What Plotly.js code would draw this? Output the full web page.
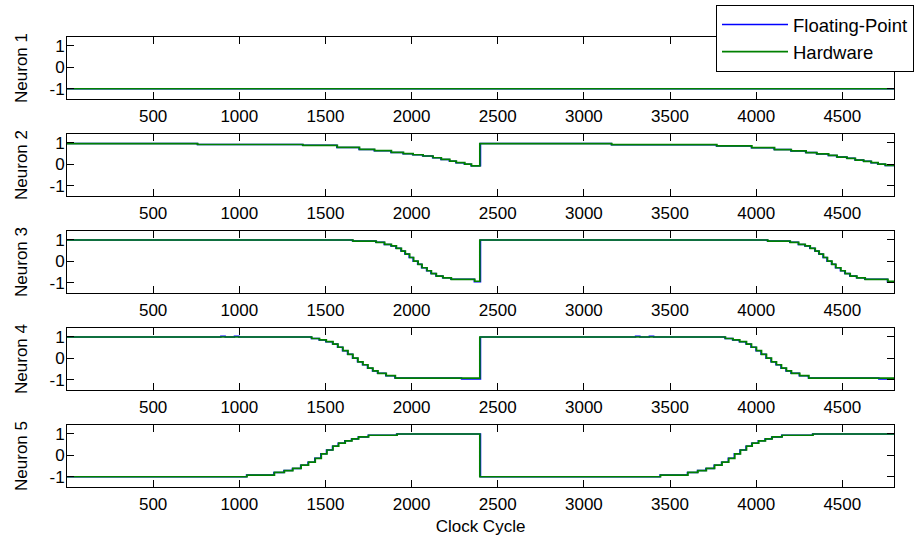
<!DOCTYPE html>
<html>
<head>
<meta charset="utf-8">
<script src="https://cdn.plot.ly/plotly-3.0.1.min.js"></script>
<style>html,body{margin:0;padding:0;background:#fff;}#chart{width:922px;height:543px;}</style>
</head>
<body>
<div id="chart"></div>
<script>
// ---------- data ----------
const seriesNames = ["Floating-Point", "Hardware"];
const neuronLabels = ["Neuron 1", "Neuron 2", "Neuron 3", "Neuron 4", "Neuron 5"];
const xTickVals = [500, 1000, 1500, 2000, 2500, 3000, 3500, 4000, 4500];
const yTickVals = [-1, 0, 1];
const xTitle = "Clock Cycle";

// Neuron 1
const n1HwT = [0, 4800];
const n1Hw  = [-1, -1];
const n1FpT = [0, 4800];
const n1Fp  = [-1, -1];

// Neuron 2
const n2HwT = [0, 759, 1370, 1569, 1698, 1786, 1883, 1953, 2009, 2067, 2125, 2173, 2222, 2260, 2309, 2348, 2396,
               3162, 3772, 3975, 4107, 4204, 4290, 4353, 4421, 4470, 4528, 4576, 4625, 4669, 4708, 4751, 4800];
const n2Hw  = [0.97, 0.93, 0.89, 0.79, 0.70, 0.64, 0.56, 0.50, 0.45, 0.39, 0.31, 0.23, 0.15, 0.08, 0.01, -0.07, 0.97,
               0.92, 0.86, 0.78, 0.69, 0.63, 0.55, 0.49, 0.42, 0.34, 0.28, 0.20, 0.14, 0.08, 0.01, -0.05, -0.05];
const n2FpT = [0, 756, 1367, 1566, 1695, 1783, 1880, 1950, 2006, 2064, 2122, 2170, 2219, 2257, 2306, 2345, 2400,
               3159, 3769, 3972, 4104, 4201, 4287, 4350, 4418, 4467, 4525, 4573, 4622, 4666, 4705, 4748, 4800];
const n2Fp  = [0.97, 0.93, 0.89, 0.79, 0.70, 0.64, 0.56, 0.50, 0.45, 0.39, 0.31, 0.23, 0.15, 0.08, 0.01, -0.07, 0.97,
               0.92, 0.86, 0.78, 0.69, 0.63, 0.55, 0.49, 0.42, 0.34, 0.28, 0.20, 0.14, 0.08, 0.01, -0.05, -0.05];

// Neuron 3
const n3HwT = [0, 1660, 1795, 1844, 1883, 1912, 1941, 1964, 1989, 2012, 2038, 2061, 2090, 2115, 2144, 2183, 2231, 2367, 2396,
               4068, 4198, 4247, 4285, 4314, 4343, 4366, 4391, 4414, 4440, 4463, 4492, 4517, 4546, 4585, 4633, 4765, 4800];
const n3Hw  = [1.0, 0.95, 0.89, 0.79, 0.72, 0.61, 0.48, 0.34, 0.18, 0.01, -0.14, -0.30, -0.44, -0.57, -0.69, -0.77, -0.84, -0.93, 1.0,
               0.95, 0.89, 0.79, 0.72, 0.61, 0.48, 0.34, 0.18, 0.01, -0.14, -0.30, -0.44, -0.57, -0.69, -0.77, -0.84, -0.93, -0.93];
const n3FpT = [0, 1657, 1792, 1841, 1880, 1909, 1938, 1961, 1986, 2009, 2035, 2058, 2087, 2112, 2141, 2180, 2228, 2364, 2400,
               4065, 4195, 4244, 4282, 4311, 4340, 4363, 4388, 4411, 4437, 4460, 4489, 4514, 4543, 4582, 4630, 4762, 4800];
const n3Fp  = [1.0, 0.95, 0.89, 0.79, 0.72, 0.61, 0.48, 0.34, 0.18, 0.01, -0.14, -0.30, -0.44, -0.57, -0.69, -0.77, -0.84, -0.95, 1.0,
               0.95, 0.89, 0.79, 0.72, 0.61, 0.48, 0.34, 0.18, 0.01, -0.14, -0.30, -0.44, -0.57, -0.69, -0.77, -0.84, -0.95, -0.95];

// Neuron 4
const n4HwT = [0, 1421, 1466, 1505, 1544, 1573, 1602, 1631, 1660, 1689, 1718, 1747, 1776, 1805, 1853, 1906, 2396,
               3822, 3866, 3905, 3944, 3973, 4002, 4031, 4060, 4089, 4118, 4147, 4176, 4205, 4253, 4306, 4800];
const n4Hw  = [1.0, 0.93, 0.86, 0.78, 0.67, 0.52, 0.36, 0.19, 0.01, -0.16, -0.30, -0.46, -0.59, -0.70, -0.81, -0.92, 1.0,
               0.93, 0.86, 0.78, 0.67, 0.52, 0.36, 0.19, 0.01, -0.16, -0.30, -0.46, -0.59, -0.70, -0.81, -0.92, -0.92];
const n4FpT = [0, 893, 918, 972, 997, 1418, 1463, 1502, 1541, 1570, 1599, 1628, 1657, 1686, 1715, 1744, 1773, 1802, 1850, 1903, 2290, 2400,
               3300, 3325, 3380, 3405, 3819, 3863, 3902, 3941, 3970, 3999, 4028, 4057, 4086, 4115, 4144, 4173, 4202, 4250, 4303, 4712, 4800];
const n4Fp  = [1.0, 1.03, 1.0, 1.03, 1.0, 0.93, 0.86, 0.78, 0.67, 0.52, 0.36, 0.19, 0.01, -0.16, -0.30, -0.46, -0.59, -0.70, -0.81, -0.92, -0.97, 1.0,
               1.03, 1.0, 1.03, 1.0, 0.93, 0.86, 0.78, 0.67, 0.52, 0.36, 0.19, 0.01, -0.16, -0.30, -0.46, -0.59, -0.70, -0.81, -0.92, -0.97, -0.97];

// Neuron 5
const n5HwT = [0, 1045, 1204, 1262, 1311, 1359, 1402, 1441, 1476, 1509, 1544, 1577, 1615, 1654, 1693, 1751, 1916, 2396,
               3445, 3604, 3662, 3711, 3759, 3802, 3841, 3876, 3909, 3944, 3977, 4015, 4054, 4093, 4151, 4330, 4800];
const n5Hw  = [-1.0, -0.92, -0.80, -0.71, -0.61, -0.46, -0.32, -0.14, 0.07, 0.25, 0.43, 0.57, 0.68, 0.77, 0.86, 0.94, 1.0, -1.0,
               -0.92, -0.80, -0.71, -0.61, -0.46, -0.32, -0.14, 0.07, 0.25, 0.43, 0.57, 0.68, 0.77, 0.86, 0.94, 1.0, 1.0];
const n5FpT = [0, 1042, 1201, 1259, 1308, 1356, 1399, 1438, 1473, 1506, 1541, 1574, 1612, 1651, 1690, 1748, 1913, 2400,
               3442, 3601, 3659, 3708, 3756, 3799, 3838, 3873, 3906, 3941, 3974, 4012, 4051, 4090, 4148, 4327, 4800];
const n5Fp  = [-1.0, -0.92, -0.80, -0.71, -0.61, -0.46, -0.32, -0.14, 0.07, 0.25, 0.43, 0.57, 0.68, 0.77, 0.86, 0.94, 1.0, -1.0,
               -0.92, -0.80, -0.71, -0.61, -0.46, -0.32, -0.14, 0.07, 0.25, 0.43, 0.57, 0.68, 0.77, 0.86, 0.94, 1.0, 1.0];

const fpT = [n1FpT, n2FpT, n3FpT, n4FpT, n5FpT];
const fpV = [n1Fp, n2Fp, n3Fp, n4Fp, n5Fp];
const hwT = [n1HwT, n2HwT, n3HwT, n4HwT, n5HwT];
const hwV = [n1Hw, n2Hw, n3Hw, n4Hw, n5Hw];

// ---------- styling ----------
const FONT = "Liberation Sans, Arial, Helvetica, sans-serif";
const FS = 17;
const BLUE = "#0000ff";
const GREEN = "#008000";
const W = 922, H = 543;
const M = {l: 67, r: 28, t: 37, b: 56};
const plotH = H - M.t - M.b;
const panelTop = [37, 134, 231, 328, 425];
const panelBot = [99, 196, 293, 390, 487];

const traces = [];
const layout = {
  width: W, height: H,
  margin: {l: M.l, r: M.r, t: M.t, b: M.b, pad: 0, autoexpand: false},
  paper_bgcolor: "#fff", plot_bgcolor: "#fff",
  font: {family: FONT, size: FS, color: "#000"},
  showlegend: true,
  legend: {
    x: (716 - M.l) / (W - M.l - M.r), y: (H - M.b - 5) / plotH,
    xanchor: "left", yanchor: "top",
    bgcolor: "#fff", bordercolor: "#000", borderwidth: 1,
    font: {family: FONT, size: 18.5, color: "#000"},
    traceorder: "grouped", tracegroupgap: 0, itemwidth: 66
  }
};

for (let i = 0; i < 5; i++) {
  const s = i === 0 ? "" : String(i + 1);
  traces.push({
    x: fpT[i], y: fpV[i], type: "scatter", mode: "lines",
    line: {color: BLUE, width: 1.5, shape: "hv"},
    name: seriesNames[0], legendgroup: "fp", showlegend: i === 0,
    xaxis: "x" + s, yaxis: "y" + s, hoverinfo: "skip"
  });
  traces.push({
    x: hwT[i], y: hwV[i], type: "scatter", mode: "lines",
    line: {color: GREEN, width: 1.7, shape: "hv"},
    name: seriesNames[1], legendgroup: "hw", showlegend: i === 0,
    xaxis: "x" + s, yaxis: "y" + s, hoverinfo: "skip"
  });
  const dom = [(H - M.b - panelBot[i]) / plotH, (H - M.b - panelTop[i]) / plotH];
  layout["xaxis" + s] = {
    anchor: "y" + s, domain: [0, 1], range: [0, 4800],
    tickmode: "array", tickvals: xTickVals, ticktext: xTickVals.map(String),
    ticks: "inside", ticklen: 7, tickwidth: 1, tickcolor: "#000",
    showline: true, linecolor: "#000", linewidth: 1, mirror: "ticks",
    showgrid: false, zeroline: false, automargin: false,
    tickfont: {family: FONT, size: FS, color: "#000"},
    ticklabelstandoff: 2, fixedrange: true
  };
  if (i === 4) {
    layout["xaxis" + s].title = {text: xTitle, font: {family: FONT, size: FS, color: "#000"}, standoff: 6};
  }
  layout["yaxis" + s] = {
    anchor: "x" + s, domain: dom, range: [-1.48, 1.42],
    tickmode: "array", tickvals: yTickVals, ticktext: yTickVals.map(String),
    ticks: "inside", ticklen: 7, tickwidth: 1, tickcolor: "#000",
    showline: true, linecolor: "#000", linewidth: 1, mirror: "ticks",
    showgrid: false, zeroline: false, automargin: false,
    tickfont: {family: FONT, size: FS, color: "#000"},
    ticklabelstandoff: -2, fixedrange: true,
    title: {text: neuronLabels[i], font: {family: FONT, size: FS, color: "#000"}, standoff: 17}
  };
}

Plotly.newPlot("chart", traces, layout, {displayModeBar: false, staticPlot: true});
</script>
</body>
</html>
